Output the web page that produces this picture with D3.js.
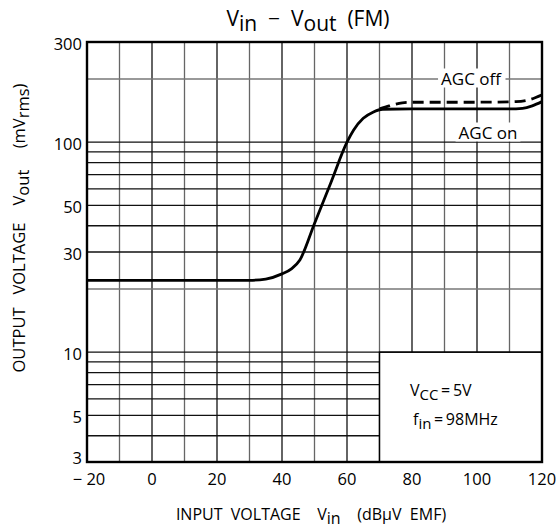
<!DOCTYPE html>
<html><head><meta charset="utf-8">
<script src="https://cdn.jsdelivr.net/npm/d3@7"></script>
<style>body{margin:0;background:#fff}svg{display:block}text{font-family:"Open Sans",sans-serif;fill:#000}</style>
</head><body>
<svg id="c" width="556" height="529"></svg>
<script>
const xTicks = [-20, 0, 20, 40, 60, 80, 100, 120];
const yTicks = [3, 5, 10, 30, 50, 100, 300];
const xGrid = [-10, 0, 10, 20, 30, 40, 50, 60, 70, 80, 90, 100, 110];
const yGridFull = [200, 100, 90, 80, 70, 60, 50, 40, 30, 20, 10];
const yGridLow = [9, 8, 7, 6, 5, 4];
const agcOnX = [-20, 30, 35, 40, 43, 45.5, 50, 55, 60, 62, 65, 68, 71, 80, 100, 110, 114, 117, 120];
const agcOnY = [22, 22, 22.3, 23.6, 25, 27.5, 41, 64, 100, 114, 130, 139, 143.5, 144, 144, 144, 145, 149, 156];
const agcOffX = [70, 73, 77, 80, 100, 112, 116, 120];
const agcOffY = [144, 149, 154, 155, 155, 156, 159, 168];

const S = "\u00A0";
const svg = d3.select("#c");
const L = 87, R = 542, T = 42, B = 462;
const x = d3.scaleLinear().domain([-20, 120]).range([L, R]);
const y = d3.scaleLog().domain([3, 300]).range([B, T]);

const g = svg.append("g");
xGrid.forEach(v => {
  const bottom = v > 70 ? y(10) : B;
  g.append("line").attr("x1", x(v)).attr("x2", x(v)).attr("y1", T).attr("y2", bottom)
    .attr("stroke", v % 20 === 0 ? "#111" : "#666").attr("stroke-width", 1.3);
});
yGridFull.forEach(v => {
  g.append("line").attr("x1", L).attr("x2", R).attr("y1", y(v)).attr("y2", y(v))
    .attr("stroke", (v === 200 || v === 20) ? "#777" : "#111").attr("stroke-width", 1.3);
});
yGridLow.forEach(v => {
  g.append("line").attr("x1", L).attr("x2", x(70)).attr("y1", y(v)).attr("y2", y(v))
    .attr("stroke", "#111").attr("stroke-width", 1.3);
});
g.append("rect").attr("x", x(70)).attr("y", y(10)).attr("width", R - x(70)).attr("height", B - y(10))
  .attr("fill", "#fff").attr("stroke", "#000").attr("stroke-width", 1.5);
g.append("rect").attr("x", L).attr("y", T).attr("width", R - L).attr("height", B - T)
  .attr("fill", "none").attr("stroke", "#000").attr("stroke-width", 2.4);

function boxLabel(txt, cx, cy) {
  const t = g.append("text").attr("x", cx).attr("y", cy).attr("text-anchor", "middle")
    .attr("dominant-baseline", "central").style("font-size", "17px").text(txt);
  const bb = t.node().getBBox();
  g.insert("rect", "text").attr("x", bb.x - 3).attr("y", bb.y + 2).attr("width", bb.width + 6)
    .attr("height", bb.height - 4).attr("fill", "#fff");
}

const line = d3.line().x(d => x(d[0])).y(d => y(d[1])).curve(d3.curveMonotoneX);
g.append("path").datum(agcOnX.map((v, i) => [v, agcOnY[i]])).attr("d", line)
  .attr("fill", "none").attr("stroke", "#000").attr("stroke-width", 2.8);
g.append("path").datum(agcOffX.map((v, i) => [v, agcOffY[i]])).attr("d", line)
  .attr("fill", "none").attr("stroke", "#000").attr("stroke-width", 2.8).attr("stroke-dasharray", "11,6");

boxLabel("AGC off", 471, 78);
boxLabel("AGC on", 488, 132);

svg.append("g").selectAll("text").data(yTicks).join("text")
  .attr("x", 82).attr("y", d => y(d) + (d === 3 ? -5 : 1)).attr("text-anchor", "end").attr("dominant-baseline", "central")
  .style("font-size", "16.5px").text(d => d);
svg.append("g").selectAll("text").data(xTicks).join("text")
  .attr("x", d => x(d) + (d < 0 ? 2 : 0)).attr("y", 485).attr("text-anchor", "middle")
  .style("font-size", "16.5px").text(d => d < 0 ? "\u2212" + S + Math.abs(d) : d);

const lt = svg.append("g").style("font-size", "16px");
const t1 = lt.append("text").attr("x", 410).attr("y", 396);
t1.append("tspan").text("V");
t1.append("tspan").attr("dy", 4).style("font-size", "15px").text("CC");
t1.append("tspan").attr("dy", -4).style("font-size", "16px").text("\u2009=\u20095V");
const t2 = lt.append("text").attr("x", 413).attr("y", 425);
t2.append("tspan").text("f");
t2.append("tspan").attr("dy", 4).style("font-size", "15px").text("in");
t2.append("tspan").attr("dy", -4).style("font-size", "16px").text("\u2009=\u200998MHz");

const tt = svg.append("text").attr("x", 308).attr("y", 26).attr("text-anchor", "middle").style("font-size", "21px");
tt.append("tspan").text("V");
tt.append("tspan").attr("dy", 5).text("in");
tt.append("tspan").attr("dy", -5).text(S + S + "\u2212" + S + S + "V");
tt.append("tspan").attr("dy", 5).text("out");
tt.append("tspan").attr("dy", -5).text(S + S + "(FM)");

const xl = svg.append("text").attr("x", 311).attr("y", 520).attr("text-anchor", "middle").style("font-size", "16px");
xl.append("tspan").text("INPUT" + S + S + "VOLTAGE" + S + S + S + S + "V");
xl.append("tspan").attr("dy", 4).text("in");
xl.append("tspan").attr("dy", -4).text(S + S + S + S + "(dB\u03BCV" + S + S + "EMF)");

const yl = svg.append("text").attr("transform", "translate(25,228) rotate(-90)").attr("text-anchor", "middle")
  .style("font-size", "16.5px");
yl.append("tspan").text("OUTPUT" + S + S + S + "VOLTAGE" + S + S + S + S + "V");
yl.append("tspan").attr("dy", 4).text("out");
yl.append("tspan").attr("dy", -4).text(S + S + S + S + S + "(mV");
yl.append("tspan").attr("dy", 4).text("rms");
yl.append("tspan").attr("dy", -4).text(")");
</script>
</body></html>
